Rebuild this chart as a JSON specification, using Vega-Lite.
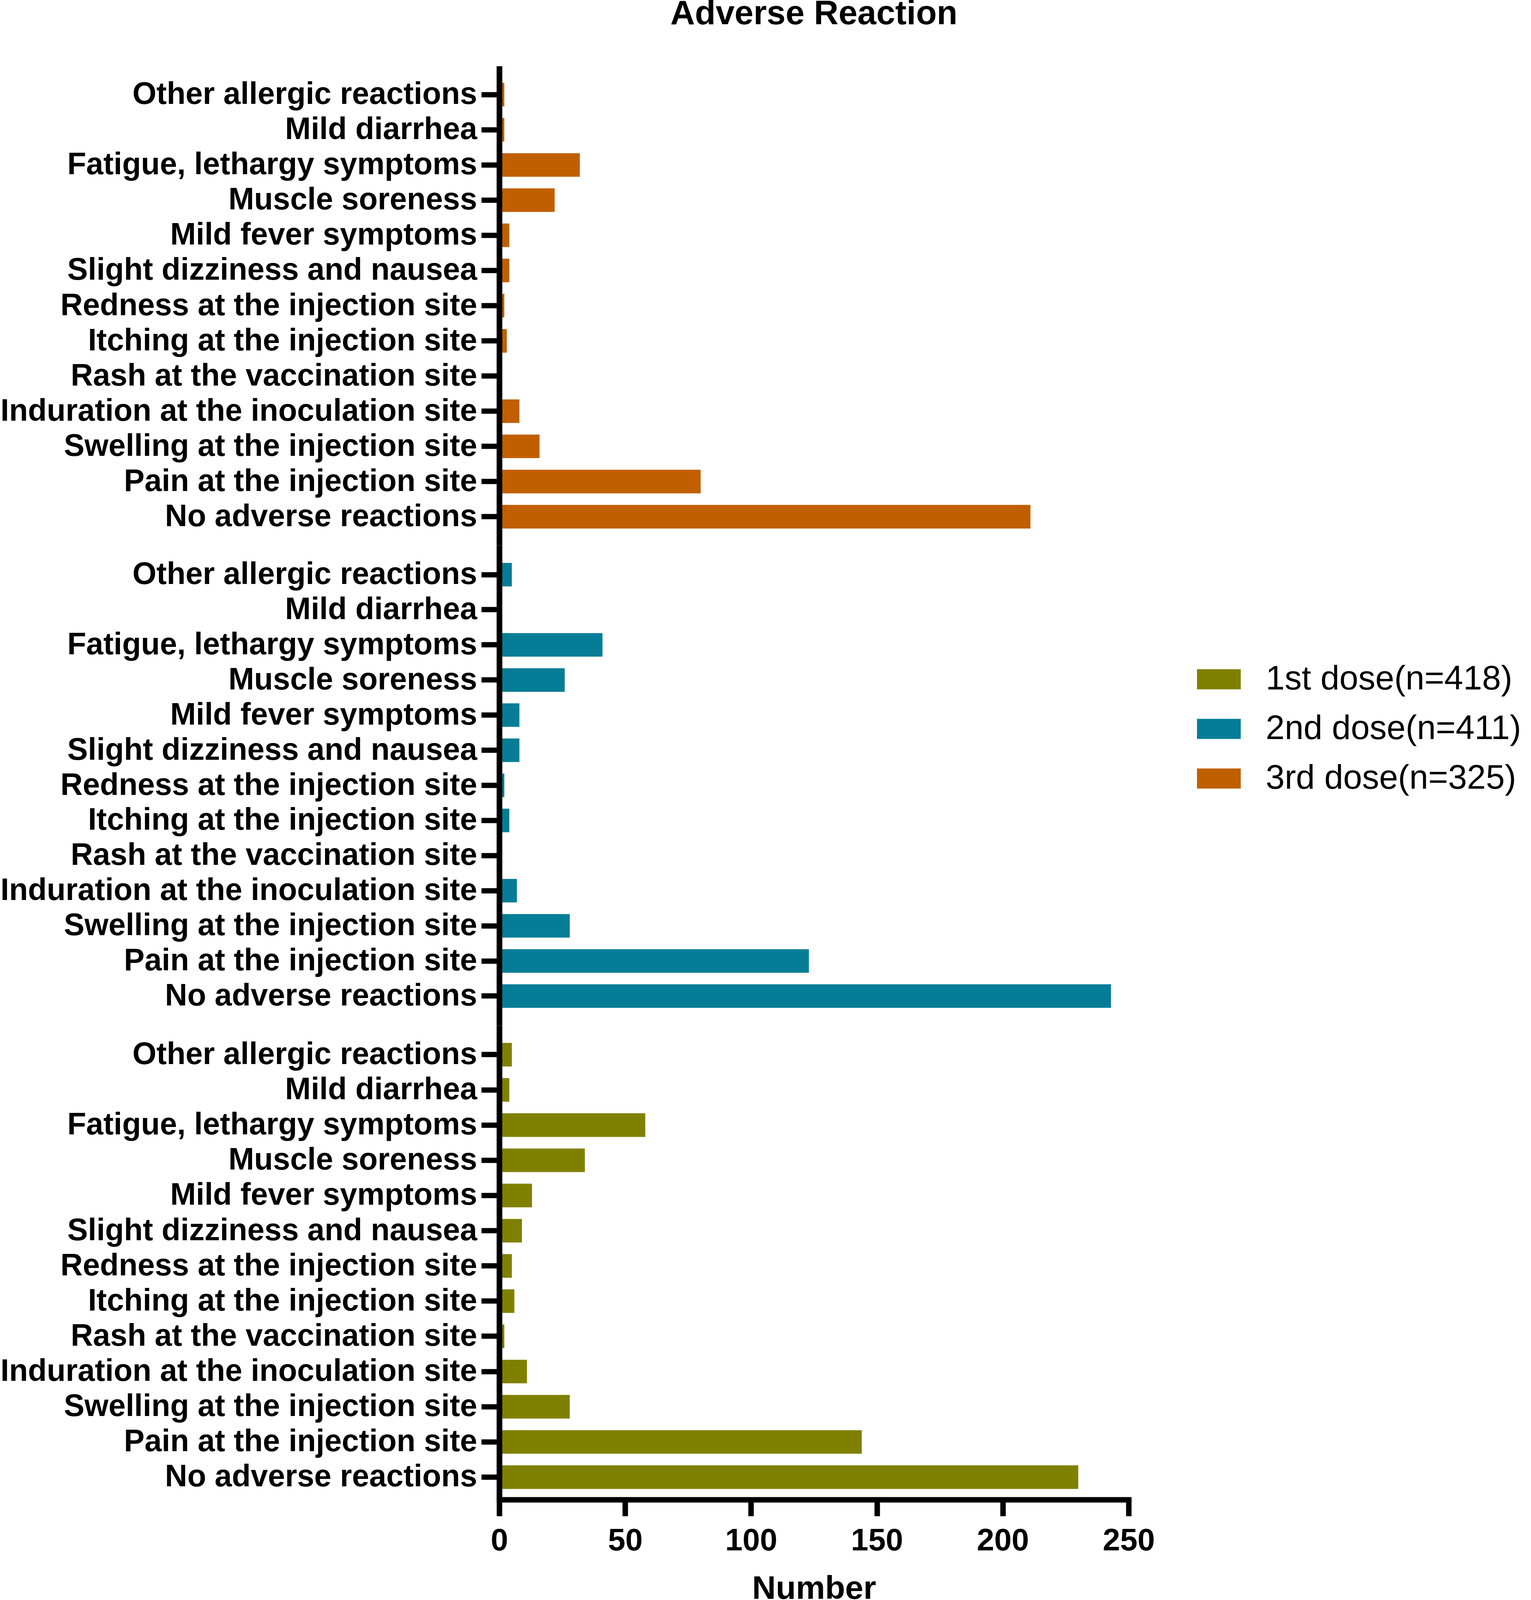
{
  "$schema": "https://vega.github.io/schema/vega-lite/v6.json",
  "padding": {"top": -8, "left": 0, "right": 0, "bottom": 0},
  "background": "white",
  "spacing": 0,
  "data": {
    "values": [
      {"dose": "1st dose(n=418)", "reaction": "Other allergic reactions", "count": 5},
      {"dose": "1st dose(n=418)", "reaction": "Mild diarrhea", "count": 4},
      {"dose": "1st dose(n=418)", "reaction": "Fatigue, lethargy symptoms", "count": 58},
      {"dose": "1st dose(n=418)", "reaction": "Muscle soreness", "count": 34},
      {"dose": "1st dose(n=418)", "reaction": "Mild fever symptoms", "count": 13},
      {"dose": "1st dose(n=418)", "reaction": "Slight dizziness and nausea", "count": 9},
      {"dose": "1st dose(n=418)", "reaction": "Redness at the injection site", "count": 5},
      {"dose": "1st dose(n=418)", "reaction": "Itching at the injection site", "count": 6},
      {"dose": "1st dose(n=418)", "reaction": "Rash at the vaccination site", "count": 2},
      {"dose": "1st dose(n=418)", "reaction": "Induration at the inoculation site", "count": 11},
      {"dose": "1st dose(n=418)", "reaction": "Swelling at the injection site", "count": 28},
      {"dose": "1st dose(n=418)", "reaction": "Pain at the injection site", "count": 144},
      {"dose": "1st dose(n=418)", "reaction": "No adverse reactions", "count": 230},
      {"dose": "2nd dose(n=411)", "reaction": "Other allergic reactions", "count": 5},
      {"dose": "2nd dose(n=411)", "reaction": "Mild diarrhea", "count": 0},
      {"dose": "2nd dose(n=411)", "reaction": "Fatigue, lethargy symptoms", "count": 41},
      {"dose": "2nd dose(n=411)", "reaction": "Muscle soreness", "count": 26},
      {"dose": "2nd dose(n=411)", "reaction": "Mild fever symptoms", "count": 8},
      {"dose": "2nd dose(n=411)", "reaction": "Slight dizziness and nausea", "count": 8},
      {"dose": "2nd dose(n=411)", "reaction": "Redness at the injection site", "count": 2},
      {"dose": "2nd dose(n=411)", "reaction": "Itching at the injection site", "count": 4},
      {"dose": "2nd dose(n=411)", "reaction": "Rash at the vaccination site", "count": 0},
      {"dose": "2nd dose(n=411)", "reaction": "Induration at the inoculation site", "count": 7},
      {"dose": "2nd dose(n=411)", "reaction": "Swelling at the injection site", "count": 28},
      {"dose": "2nd dose(n=411)", "reaction": "Pain at the injection site", "count": 123},
      {"dose": "2nd dose(n=411)", "reaction": "No adverse reactions", "count": 243},
      {"dose": "3rd dose(n=325)", "reaction": "Other allergic reactions", "count": 2},
      {"dose": "3rd dose(n=325)", "reaction": "Mild diarrhea", "count": 2},
      {"dose": "3rd dose(n=325)", "reaction": "Fatigue, lethargy symptoms", "count": 32},
      {"dose": "3rd dose(n=325)", "reaction": "Muscle soreness", "count": 22},
      {"dose": "3rd dose(n=325)", "reaction": "Mild fever symptoms", "count": 4},
      {"dose": "3rd dose(n=325)", "reaction": "Slight dizziness and nausea", "count": 4},
      {"dose": "3rd dose(n=325)", "reaction": "Redness at the injection site", "count": 2},
      {"dose": "3rd dose(n=325)", "reaction": "Itching at the injection site", "count": 3},
      {"dose": "3rd dose(n=325)", "reaction": "Rash at the vaccination site", "count": 0},
      {"dose": "3rd dose(n=325)", "reaction": "Induration at the inoculation site", "count": 8},
      {"dose": "3rd dose(n=325)", "reaction": "Swelling at the injection site", "count": 16},
      {"dose": "3rd dose(n=325)", "reaction": "Pain at the injection site", "count": 80},
      {"dose": "3rd dose(n=325)", "reaction": "No adverse reactions", "count": 211}
    ]
  },
  "vconcat": [
    {
      "width": 1611,
      "height": 1227,
      "title": {
        "text": "Adverse Reaction",
        "font": "Liberation Sans",
        "fontSize": 87,
        "fontWeight": "bold",
        "color": "black",
        "anchor": "middle",
        "frame": "group",
        "offset": 89
      },
      "transform": [{"filter": "datum.dose === '3rd dose(n=325)'"}],
      "mark": {"type": "bar"},
      "encoding": {
        "y": {
          "field": "reaction",
          "type": "nominal",
          "sort": ["Other allergic reactions", "Mild diarrhea", "Fatigue, lethargy symptoms", "Muscle soreness", "Mild fever symptoms", "Slight dizziness and nausea", "Redness at the injection site", "Itching at the injection site", "Rash at the vaccination site", "Induration at the inoculation site", "Swelling at the injection site", "Pain at the injection site", "No adverse reactions"],
          "scale": {"paddingInner": 0.33, "paddingOuter": 0.478, "align": 0.5},
          "axis": {"title": null, "zindex": 1, "labelFont": "Liberation Sans", "labelFontSize": 79, "labelFontWeight": "bold", "labelColor": "black", "labelLimit": 3000, "labelPadding": 11, "tickSize": 46, "tickWidth": 13.4, "tickColor": "black", "domainWidth": 14.5, "domainColor": "black"}
        },
        "x": {
          "field": "count",
          "type": "quantitative",
          "scale": {"domain": [0, 250], "nice": false},
          "axis": null
        },
        "color": {
          "field": "dose",
          "type": "nominal",
          "scale": {"domain": ["1st dose(n=418)", "2nd dose(n=411)", "3rd dose(n=325)"], "range": ["#808000", "#067D96", "#C05F00"]},
          "legend": {"title": null, "orient": "none", "legendX": 1786, "legendY": 1514, "labelFont": "Liberation Sans", "labelFontSize": 87, "labelColor": "black", "labelLimit": 2000, "labelOffset": 64, "symbolType": "M-1,-0.46H1V0.46H-1Z", "symbolSize": 12544, "symbolStrokeWidth": 0, "symbolOpacity": 1, "rowPadding": 28}
        }
      }
    },
    {
      "width": 1611,
      "height": 1229,
      "transform": [{"filter": "datum.dose === '2nd dose(n=411)'"}],
      "mark": {"type": "bar"},
      "encoding": {
        "y": {
          "field": "reaction",
          "type": "nominal",
          "sort": ["Other allergic reactions", "Mild diarrhea", "Fatigue, lethargy symptoms", "Muscle soreness", "Mild fever symptoms", "Slight dizziness and nausea", "Redness at the injection site", "Itching at the injection site", "Rash at the vaccination site", "Induration at the inoculation site", "Swelling at the injection site", "Pain at the injection site", "No adverse reactions"],
          "scale": {"paddingInner": 0.33, "paddingOuter": 0.5, "align": 0.5},
          "axis": {"title": null, "zindex": 1, "labelFont": "Liberation Sans", "labelFontSize": 79, "labelFontWeight": "bold", "labelColor": "black", "labelLimit": 3000, "labelPadding": 11, "tickSize": 46, "tickWidth": 13.4, "tickColor": "black", "domainWidth": 14.5, "domainColor": "black"}
        },
        "x": {
          "field": "count",
          "type": "quantitative",
          "scale": {"domain": [0, 250], "nice": false},
          "axis": null
        },
        "color": {
          "field": "dose",
          "type": "nominal",
          "scale": {"domain": ["1st dose(n=418)", "2nd dose(n=411)", "3rd dose(n=325)"], "range": ["#808000", "#067D96", "#C05F00"]},
          "legend": {"title": null, "orient": "none", "legendX": 1786, "legendY": 1514, "labelFont": "Liberation Sans", "labelFontSize": 87, "labelColor": "black", "labelLimit": 2000, "labelOffset": 64, "symbolType": "M-1,-0.46H1V0.46H-1Z", "symbolSize": 12544, "symbolStrokeWidth": 0, "symbolOpacity": 1, "rowPadding": 28}
        }
      }
    },
    {
      "width": 1611,
      "height": 1214,
      "transform": [{"filter": "datum.dose === '1st dose(n=418)'"}],
      "mark": {"type": "bar"},
      "encoding": {
        "y": {
          "field": "reaction",
          "type": "nominal",
          "sort": ["Other allergic reactions", "Mild diarrhea", "Fatigue, lethargy symptoms", "Muscle soreness", "Mild fever symptoms", "Slight dizziness and nausea", "Redness at the injection site", "Itching at the injection site", "Rash at the vaccination site", "Induration at the inoculation site", "Swelling at the injection site", "Pain at the injection site", "No adverse reactions"],
          "scale": {"paddingInner": 0.33, "paddingOuter": 0.4, "align": 0.621},
          "axis": {"title": null, "zindex": 1, "labelFont": "Liberation Sans", "labelFontSize": 79, "labelFontWeight": "bold", "labelColor": "black", "labelLimit": 3000, "labelPadding": 11, "tickSize": 46, "tickWidth": 13.4, "tickColor": "black", "domainWidth": 14.5, "domainColor": "black"}
        },
        "x": {
          "field": "count",
          "type": "quantitative",
          "scale": {"domain": [0, 250], "nice": false},
          "axis": {
            "title": "Number",
            "values": [0, 50, 100, 150, 200, 250],
            "zindex": 1,
            "grid": false,
            "labelFont": "Liberation Sans",
            "labelFontSize": 80,
            "labelFontWeight": "bold",
            "labelColor": "black",
            "labelPadding": 24,
            "labelFlush": false,
            "labelOverlap": false,
            "tickSize": 42,
            "tickWidth": 14,
            "tickColor": "black",
            "domainWidth": 13.8,
            "domainColor": "black",
            "domainCap": "square",
            "titleFont": "Liberation Sans",
            "titleFontSize": 84,
            "titleFontWeight": "bold",
            "titleColor": "black",
            "titlePadding": 42
          }
        },
        "color": {
          "field": "dose",
          "type": "nominal",
          "scale": {"domain": ["1st dose(n=418)", "2nd dose(n=411)", "3rd dose(n=325)"], "range": ["#808000", "#067D96", "#C05F00"]},
          "legend": {"title": null, "orient": "none", "legendX": 1786, "legendY": 1514, "labelFont": "Liberation Sans", "labelFontSize": 87, "labelColor": "black", "labelLimit": 2000, "labelOffset": 64, "symbolType": "M-1,-0.46H1V0.46H-1Z", "symbolSize": 12544, "symbolStrokeWidth": 0, "symbolOpacity": 1, "rowPadding": 28}
        }
      }
    }
  ],
  "config": {
    "view": {"stroke": null},
    "font": "Liberation Sans"
  }
}
